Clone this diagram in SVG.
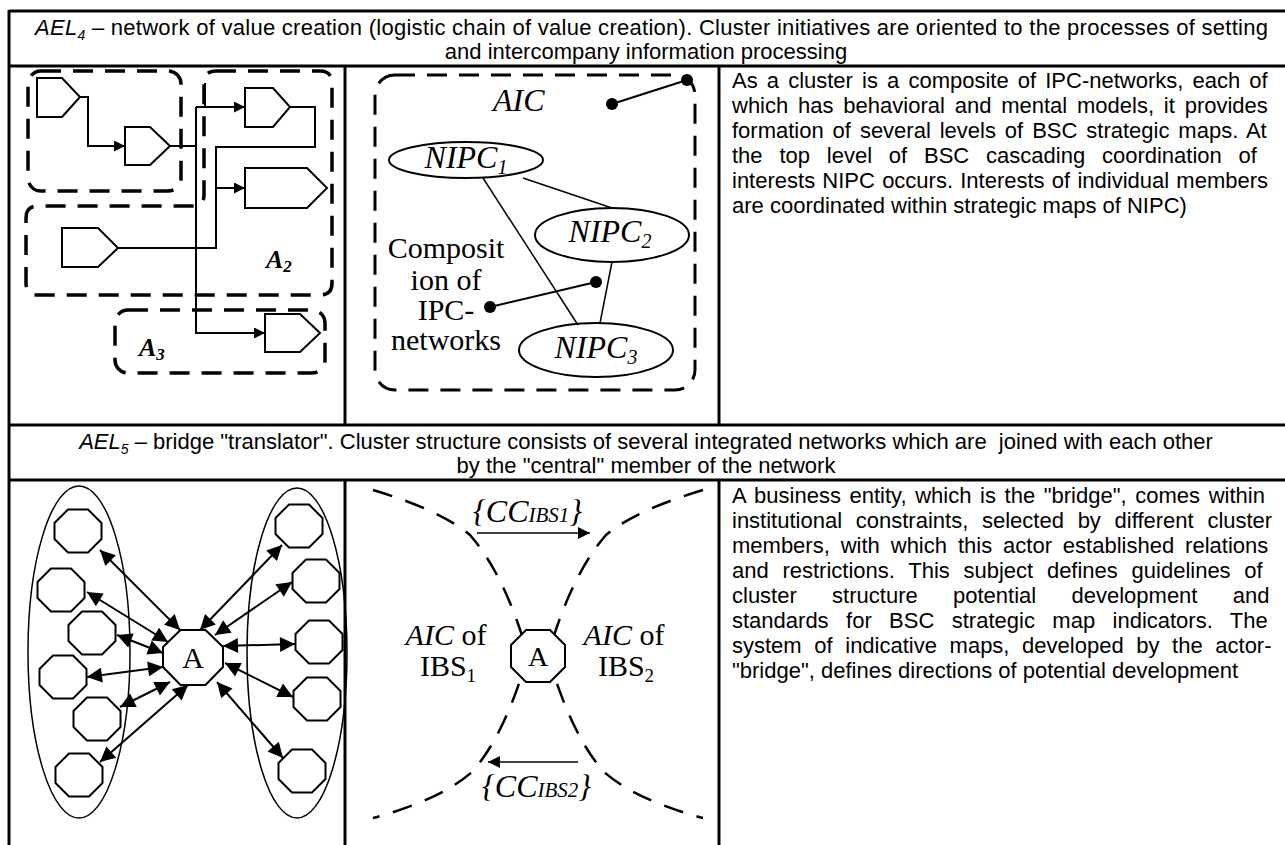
<svg xmlns="http://www.w3.org/2000/svg" xmlns:xlink="http://www.w3.org/1999/xlink" width="1285" height="845" viewBox="0 0 1285 845">
<style>
.bt{font-family:"Liberation Sans",Arial,sans-serif;font-size:22px;fill:#000}
.sf{font-family:"Liberation Serif","Times New Roman",serif;fill:#000}
.grid{stroke:#000;stroke-width:3;fill:none}
.dash{fill:none;stroke:#000;stroke-width:3.5;stroke-dasharray:20 12}
.dash2{fill:none;stroke:#000;stroke-width:3;stroke-dasharray:20 12}
.dash3{fill:none;stroke:#000;stroke-width:2.5;stroke-dasharray:20 14}
.shp{fill:#fff;stroke:#000;stroke-width:2}
.ln{fill:none;stroke:#000;stroke-width:2}
.thin{fill:none;stroke:#000;stroke-width:1.5}
</style>
<defs>
<marker id="ah" viewBox="0 0 10 10" refX="10" refY="5" markerWidth="13" markerHeight="11" markerUnits="userSpaceOnUse" orient="auto"><path d="M0,0 L10,5 L0,10 z" fill="#000"/></marker>
<marker id="ab" viewBox="0 0 10 10" refX="10" refY="5" markerWidth="18" markerHeight="15" markerUnits="userSpaceOnUse" orient="auto-start-reverse"><path d="M0,0 L10,5 L0,10 z" fill="#000"/></marker>
<marker id="am" viewBox="0 0 10 10" refX="10" refY="5" markerWidth="17" markerHeight="12" markerUnits="userSpaceOnUse" orient="auto"><path d="M0,0 L10,5 L0,10 z" fill="#000"/></marker>
<polygon id="oct" points="-10,-21.5 10,-21.5 23.5,-8 23.5,8 10,21.5 -10,21.5 -23.5,8 -23.5,-8"/>
</defs>

<g id="table">
<line class="grid" x1="9" y1="11" x2="1285" y2="11"/>
<line class="grid" x1="9" y1="66" x2="1285" y2="66"/>
<line class="grid" x1="9" y1="425" x2="1285" y2="425"/>
<line class="grid" x1="9" y1="480" x2="1285" y2="480"/>
<line class="grid" x1="9" y1="10" x2="9" y2="845"/>
<line class="grid" x1="345" y1="66" x2="345" y2="425"/>
<line class="grid" x1="719" y1="66" x2="719" y2="425"/>
<line class="grid" x1="345" y1="480" x2="345" y2="845"/>
<line class="grid" x1="719" y1="480" x2="719" y2="845"/>
</g>

<g id="header1">
<text class="bt" x="35" y="35" textLength="1233" lengthAdjust="spacing"><tspan font-style="italic">AEL</tspan><tspan font-style="italic" font-size="14" dy="5">4</tspan><tspan dy="-5"> – network of value creation (logistic chain of value creation). Cluster initiatives are oriented to the processes of setting</tspan></text>
<text class="bt" x="646" y="59" text-anchor="middle">and intercompany information processing</text>
</g>

<g id="ael4-chain">
<rect class="dash" x="28" y="71" width="153" height="120" rx="13"/>
<path class="dash" d="M216,71 H320 Q332,71 332,83 V283 Q332,295 320,295 H38 Q26,295 26,283 V218 Q26,206 38,206 H193 Q204,206 204,195 V83 Q204,71 216,71 Z"/>
<rect class="dash" x="115" y="310" width="210" height="63" rx="13"/>
<polygon class="shp" points="37,78 62,78 80,97 62,117 37,117"/>
<polygon class="shp" points="125,127 150,127 170,146 150,165 125,165"/>
<polygon class="shp" points="245,88 273,88 290,107 273,127 245,127"/>
<polygon class="shp" points="245,168 307,168 327,188 307,208 245,208"/>
<polygon class="shp" points="62,228 98,228 118,248 98,267 62,267"/>
<polygon class="shp" points="265,314 300,314 320,333 300,352 265,352"/>
<text class="sf" x="266" y="268" font-size="26" font-weight="bold" font-style="italic">A<tspan font-size="17" dy="4">2</tspan></text>
<text class="sf" x="139" y="356" font-size="26" font-weight="bold" font-style="italic">A<tspan font-size="17" dy="4">3</tspan></text>
</g>

<g id="ael4-links">
<path class="ln" d="M80,97 H88 V146 H125" marker-end="url(#ah)"/>
<path class="ln" d="M170,146 H196"/>
<path class="ln" d="M196,107 V333 H265" marker-end="url(#ah)"/>
<path class="ln" d="M196,107 H245" marker-end="url(#ah)"/>
<path class="ln" d="M205,83 V107"/>
<path class="ln" d="M290,107 H315 V147 H216 V248 H118"/>
<path class="ln" d="M216,188 H245" marker-end="url(#ah)"/>
</g>

<g id="aic-box">
<rect class="dash2" x="375" y="75" width="320" height="315" rx="20"/>
<text class="sf" x="493" y="111" font-size="32" font-style="italic">AIC</text>
</g>
<g id="nipc1">
<ellipse class="shp" cx="466" cy="160" rx="77" ry="18" stroke-width="1.5"/>
<text class="sf" x="466" y="168" font-size="32" font-style="italic" text-anchor="middle">NIPC<tspan font-size="20" dy="6">1</tspan></text>
</g>
<g id="nipc2">
<ellipse class="shp" cx="612" cy="235" rx="77" ry="27" stroke-width="1.5"/>
<text class="sf" x="610" y="242" font-size="32" font-style="italic" text-anchor="middle">NIPC<tspan font-size="20" dy="6">2</tspan></text>
</g>
<g id="nipc3">
<ellipse class="shp" cx="596" cy="350" rx="77" ry="27" stroke-width="1.5"/>
<text class="sf" x="596" y="358" font-size="32" font-style="italic" text-anchor="middle">NIPC<tspan font-size="20" dy="6">3</tspan></text>
</g>
<g id="composition-label">
<text class="sf" font-size="30" text-anchor="middle"><tspan x="446" y="258">Composit</tspan><tspan x="446" y="290">ion of</tspan><tspan x="446" y="320">IPC-</tspan><tspan x="446" y="350">networks</tspan></text>
</g>
<g id="nipc-links">
<line class="thin" x1="523" y1="178" x2="612" y2="208"/>
<line class="thin" x1="483" y1="178" x2="578" y2="325"/>
<line class="thin" x1="612" y1="262" x2="600" y2="323"/>
<line class="ln" x1="612" y1="104" x2="687" y2="80"/>
<circle cx="612" cy="104" r="6"/>
<circle cx="687" cy="80" r="6"/>
<line class="ln" x1="490" y1="307" x2="596" y2="282"/>
<circle cx="490" cy="307" r="6"/>
<circle cx="596" cy="282" r="6"/>
</g>

<g id="text1">
<text class="bt" x="732" y="88" word-spacing="3">As a cluster is a composite of IPC-networks, each of</text>
<text class="bt" x="732" y="113" word-spacing="3.7">which has behavioral and mental models, it provides</text>
<text class="bt" x="732" y="138" word-spacing="2.8">formation of several levels of BSC strategic maps. At</text>
<text class="bt" x="732" y="163" word-spacing="10.7">the top level of BSC cascading coordination of</text>
<text class="bt" x="732" y="188" word-spacing="1.1">interests NIPC occurs. Interests of individual members</text>
<text class="bt" x="732" y="213">are coordinated within strategic maps of NIPC)</text>
</g>

<g id="header2">
<text class="bt" x="646" y="449" text-anchor="middle" xml:space="preserve"><tspan font-style="italic">AEL</tspan><tspan font-style="italic" font-size="14" dy="5">5</tspan><tspan dy="-5"> – bridge "translator". Cluster structure consists of several integrated networks which are  joined with each other</tspan></text>
<text class="bt" x="646" y="473" text-anchor="middle">by the "central" member of the network</text>
</g>

<g id="groups">
<ellipse class="thin" cx="79" cy="652" rx="51" ry="166"/>
<ellipse class="thin" cx="297" cy="653" rx="50" ry="165"/>
</g>
<g id="nodes-left" class="shp">
<use href="#oct" x="78" y="531"/>
<use href="#oct" x="61" y="590"/>
<use href="#oct" x="92" y="633"/>
<use href="#oct" x="63" y="677"/>
<use href="#oct" x="97" y="719"/>
<use href="#oct" x="79" y="775"/>
</g>
<g id="nodes-right" class="shp">
<use href="#oct" x="299" y="526"/>
<use href="#oct" x="316" y="581"/>
<use href="#oct" x="319" y="642"/>
<use href="#oct" x="317" y="699"/>
<use href="#oct" x="302" y="771"/>
</g>
<g id="bridge-links">
<line class="ln" x1="100" y1="550" x2="180" y2="630" marker-start="url(#ab)" marker-end="url(#ab)"/>
<line class="ln" x1="87" y1="592" x2="168" y2="642" marker-start="url(#ab)" marker-end="url(#ab)"/>
<line class="ln" x1="117" y1="635" x2="163" y2="653" marker-start="url(#ab)" marker-end="url(#ab)"/>
<line class="ln" x1="87" y1="677" x2="163" y2="667" marker-start="url(#ab)" marker-end="url(#ab)"/>
<line class="ln" x1="120" y1="707" x2="170" y2="682" marker-start="url(#ab)" marker-end="url(#ab)"/>
<line class="ln" x1="100" y1="762" x2="188" y2="685" marker-start="url(#ab)" marker-end="url(#ab)"/>
<line class="ln" x1="282" y1="545" x2="200" y2="630" marker-start="url(#ab)" marker-end="url(#ab)"/>
<line class="ln" x1="292" y1="582" x2="215" y2="635" marker-start="url(#ab)" marker-end="url(#ab)"/>
<line class="ln" x1="295" y1="644" x2="223" y2="646" marker-start="url(#ab)" marker-end="url(#ab)"/>
<line class="ln" x1="293" y1="697" x2="225" y2="663" marker-start="url(#ab)" marker-end="url(#ab)"/>
<line class="ln" x1="283" y1="758" x2="217" y2="682" marker-start="url(#ab)" marker-end="url(#ab)"/>
</g>
<g id="bridge-a">
<polygon class="shp" points="180.5,630 205.5,630 223,647 223,667 205.5,685 180.5,685 163,667 163,647"/>
<text class="sf" x="193" y="668" font-size="30" text-anchor="middle">A</text>
</g>

<g id="aic-curves">
<path class="dash3" d="M373,490 Q440,510 470,535 Q505,575 528,655 Q505,735 472,772 Q440,800 373,818"/>
<path class="dash3" d="M703,490 Q636,510 606,535 Q571,575 548,655 Q571,735 604,772 Q636,800 703,818"/>
</g>
<g id="bridge-a2">
<polygon class="shp" points="526,630 550,630 565,645 565,667 550,682 526,682 511,667 511,645"/>
<text class="sf" x="538" y="666" font-size="28" text-anchor="middle">A</text>
</g>
<g id="cc-arrows">
<line class="thin" x1="477" y1="533" x2="590" y2="533" marker-end="url(#am)"/>
<line class="thin" x1="578" y1="762" x2="488" y2="762" marker-end="url(#am)"/>
</g>
<g id="cc-labels">
<text class="sf" x="473" y="522" font-size="32" font-style="italic">{CC<tspan font-size="21">IBS1</tspan>}</text>
<text class="sf" x="482" y="797" font-size="32" font-style="italic">{CC<tspan font-size="21">IBS2</tspan>}</text>
</g>
<g id="ibs1-label">
<text class="sf" font-size="30" x="446" y="645" text-anchor="middle"><tspan font-style="italic">AIC</tspan> of</text>
<text class="sf" font-size="30" x="448" y="676" text-anchor="middle">IBS<tspan font-size="19" dy="6">1</tspan></text>
</g>
<g id="ibs2-label">
<text class="sf" font-size="30" x="624" y="645" text-anchor="middle"><tspan font-style="italic">AIC</tspan> of</text>
<text class="sf" font-size="30" x="626" y="676" text-anchor="middle">IBS<tspan font-size="19" dy="6">2</tspan></text>
</g>

<g id="text2">
<text class="bt" x="732" y="503" word-spacing="2.5">A business entity, which is the "bridge", comes within</text>
<text class="bt" x="732" y="528" word-spacing="7.6">institutional constraints, selected by different cluster</text>
<text class="bt" x="732" y="553" word-spacing="4.8">members, with which this actor established relations</text>
<text class="bt" x="732" y="578" word-spacing="7.6">and restrictions. This subject defines guidelines of</text>
<text class="bt" x="732" y="603" word-spacing="29.2">cluster structure potential development and</text>
<text class="bt" x="732" y="628" word-spacing="11.3">standards for BSC strategic map indicators. The</text>
<text class="bt" x="732" y="653" word-spacing="6.5">system of indicative maps, developed by the actor-</text>
<text class="bt" x="732" y="678">"bridge", defines directions of potential development</text>
</g>
</svg>
